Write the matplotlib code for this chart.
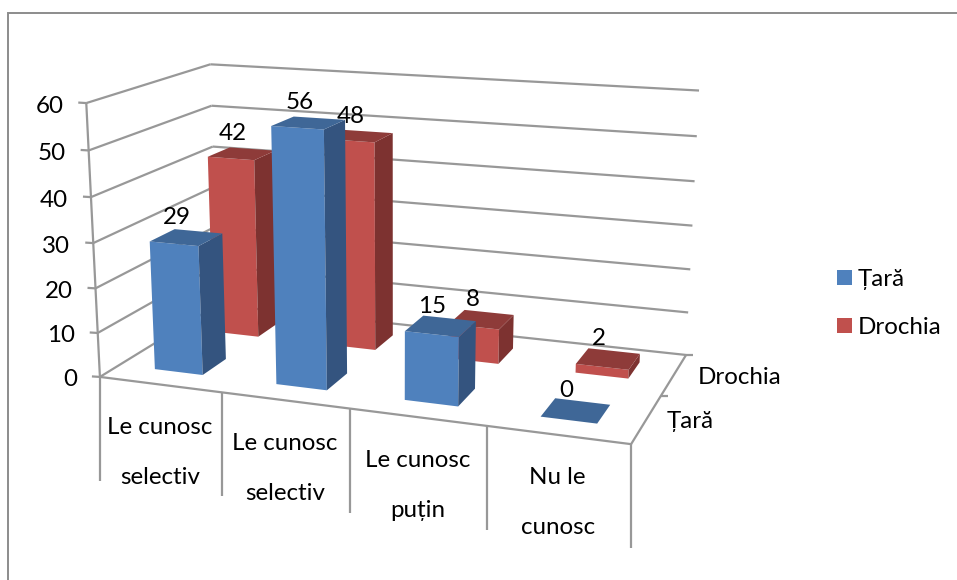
import numpy as np
import matplotlib
matplotlib.use("Agg")
import matplotlib.pyplot as plt
from matplotlib.patches import Polygon, Rectangle

categories = ["Le cunosc\nselectiv", "Le cunosc\nselectiv", "Le cunosc\npuțin", "Nu le\ncunosc"]
series_names = ["Țară", "Drochia"]
tara = [29, 56, 15, 0]
drochia = [42, 48, 8, 2]
z_ticks = [0, 10, 20, 30, 40, 50, 60]

blue = ("#4F81BD", "#34547F", "#3F6797")
red = ("#C0504D", "#7D3230", "#8E3B39")
grid_col = "#989898"
bar_w = 0.40
bar_d = 0.40
fs = 17.4

plt.rcParams["font.family"] = ["Lato", "DejaVu Sans"]

# chart box (category, series, value) -> picture, fitted on the box corners
box_pts = [(0, 0, 0), (1, 0, 0), (2, 0, 0), (3, 0, 0), (4, 0, 0), (4, 2, 0), (4, 2, 30), (4, 2, 60),
           (0, 2, 60), (0, 2, 40), (0, 0, 60), (0, 0, 30)]
pic_pts = [(100, 376), (221, 393), (350, 409), (487, 427), (631, 443), (686, 355), (692.6, 225), (699, 91),
           (210, 64), (213, 147), (86, 103), (94, 243)]
rows = []
for (a, b, c), (u, v) in zip(box_pts, pic_pts):
    rows.append([a, b, c, 1, 0, 0, 0, 0, -u * a, -u * b, -u * c, -u])
    rows.append([0, 0, 0, 0, a, b, c, 1, -v * a, -v * b, -v * c, -v])
cam = np.linalg.svd(np.array(rows, float))[2][-1].reshape(3, 4)


def pr(a, b, c):
    p = cam @ np.array([a, b, c, 1.0])
    return p[0] / p[2], p[1] / p[2]


fig = plt.figure(figsize=(9.57, 5.8), dpi=100)
ax = fig.add_axes([0, 0, 1, 1])
ax.set_xlim(0, 957)
ax.set_ylim(580, 0)
ax.axis("off")

ax.add_patch(Rectangle((8, 13), 960, 580, fc="white", ec="#8C8C8C", lw=1.4, zorder=0))


def line(p, q, lw=1.6):
    ax.plot([p[0], q[0]], [p[1], q[1]], color=grid_col, lw=lw, solid_capstyle="butt", zorder=1)


# walls
for z in z_ticks:
    line(pr(0, 0, z), pr(0, 2, z))
    line(pr(0, 2, z), pr(4, 2, z))
    x0, y0 = pr(0, 0, z)
    line((x0 - 8, y0 - 0.5), (x0, y0))
    ax.text(x0 - 23, y0 + 3, str(z), ha="right", va="center", fontsize=fs)

line(pr(0, 0, 0), pr(0, 0, 60))
line(pr(0, 0, 0), pr(4, 0, 0))
line(pr(4, 0, 0), pr(4, 2, 0))
x0, y0 = pr(4, 2, 0)
line((x0, y0), (x0 + 7, y0))
x0, y0 = pr(4, 1, 0)
line((x0, y0), (x0 + 7, y0))

# category dividers and labels
for i in range(5):
    x0, y0 = pr(i, 0, 0)
    line((x0, y0), (x0, y0 + 104))
for i, cat in enumerate(categories):
    x0, y0 = pr(i + 0.5, 0, 0)
    top, bottom = cat.split("\n")
    ax.text(x0, y0 + 43, top, ha="center", va="center", fontsize=fs)
    ax.text(x0, y0 + 93, bottom, ha="center", va="center", fontsize=fs)

ax.text(698, 378, series_names[1], ha="left", va="center", fontsize=fs)
ax.text(667, 422, series_names[0], ha="left", va="center", fontsize=fs)


def bar(i, j, val, cols):
    xa, xb = i + 0.5 - bar_w / 2, i + 0.5 + bar_w / 2
    ya, yb = j + 0.5 - bar_d / 2, j + 0.5 + bar_d / 2
    front = [pr(xa, ya, 0), pr(xb, ya, 0), pr(xb, ya, val), pr(xa, ya, val)]
    side = [pr(xb, ya, 0), pr(xb, yb, 0), pr(xb, yb, val), pr(xb, ya, val)]
    top = [pr(xa, ya, val), pr(xb, ya, val), pr(xb, yb, val), pr(xa, yb, val)]
    if val > 0:
        ax.add_patch(Polygon(front, fc=cols[0], ec="none", zorder=3))
        ax.add_patch(Polygon(side, fc=cols[1], ec="none", zorder=3))
    ax.add_patch(Polygon(top, fc=cols[2], ec="none", zorder=3))
    x0, y0 = pr(i + 0.5, j + 0.5, val)
    ax.text(x0 - 9, y0 - 20, str(val), ha="center", va="center", fontsize=fs, zorder=5)


for i, val in enumerate(drochia):
    bar(i, 1, val, red)
for i, val in enumerate(tara):
    bar(i, 0, val, blue)

# legend
ax.add_patch(Rectangle((837, 270), 15, 15, fc=blue[0], ec="none"))
ax.add_patch(Rectangle((837, 318), 15, 15, fc=red[0], ec="none"))
ax.text(858, 279, series_names[0], ha="left", va="center", fontsize=fs)
ax.text(858, 327, series_names[1], ha="left", va="center", fontsize=fs)

fig.savefig("out.png", dpi=100)
